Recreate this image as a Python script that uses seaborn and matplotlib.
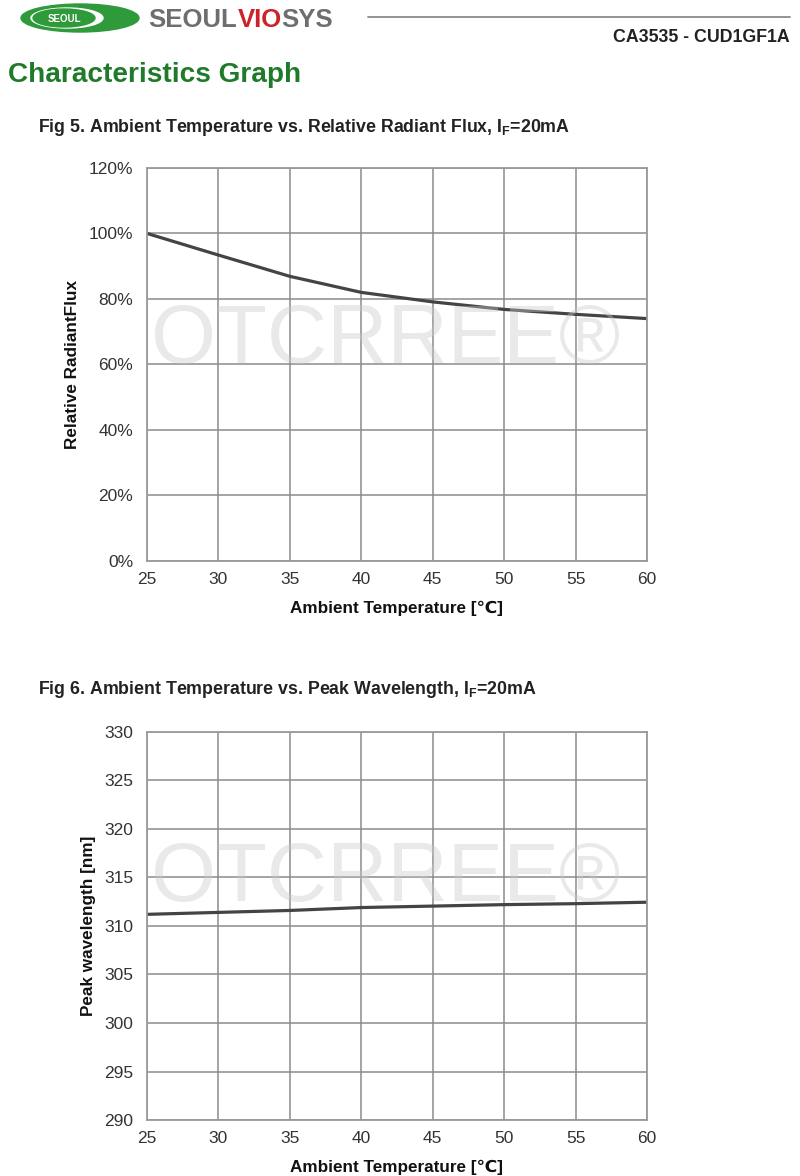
import numpy as np
import pandas as pd
import seaborn as sns
import matplotlib.pyplot as plt
from matplotlib.patches import Ellipse
from matplotlib.ticker import FuncFormatter

# values
temperature = [25, 30, 35, 40, 45, 50, 55, 60]
relative_flux = [100.0, 93.4, 86.9, 82.0, 79.1, 76.8, 75.3, 74.0]
peak_wavelength = [311.2, 311.4, 311.6, 311.9, 312.05, 312.2, 312.3, 312.45]

flux_ticks = [0, 20, 40, 60, 80, 100, 120]
wl_ticks = [290, 295, 300, 305, 310, 315, 320, 325, 330]

sns.set_style('white')
plt.rcParams['font.family'] = ['Liberation Sans', 'DejaVu Sans']
plt.rcParams['mathtext.fontset'] = 'custom'
plt.rcParams['mathtext.rm'] = 'Liberation Sans'
plt.rcParams['mathtext.bf'] = 'Liberation Sans:bold'

fig = plt.figure(figsize=(8, 11.76), dpi=100)

# header
hdr = fig.add_axes([0, 0, 1, 1], zorder=-5)
hdr.set_xlim(0, 800)
hdr.set_ylim(1176, 0)
hdr.axis('off')
hdr.add_patch(Ellipse((80, 18), 118, 28, color='#2e9a3a'))
hdr.add_patch(Ellipse((67, 18), 72, 20, color='white'))
hdr.add_patch(Ellipse((64, 18), 62, 18, color='#2e9a3a'))
hdr.text(64, 18.5, 'SEOUL', color='white', fontsize=7, ha='center', va='center', fontweight='bold')
hdr.text(148, 20, 'SEOUL', color='#6e6e6e', fontsize=18.5, ha='left', va='center', fontweight='bold')
hdr.text(238, 20, 'VIO', color='#cc2229', fontsize=18.5, ha='left', va='center', fontweight='bold')
hdr.text(281, 20, 'SYS', color='#6e6e6e', fontsize=18.5, ha='left', va='center', fontweight='bold')
hdr.plot([368, 790], [17, 17], color='#8a8a8a', lw=1.3)
hdr.text(790, 37, 'CA3535 - CUD1GF1A', fontsize=12.8, fontweight='bold', ha='right', va='center', color='#222222')
hdr.text(8, 75, 'Characteristics Graph', fontsize=20.2, fontweight='bold', ha='left', va='center', color='#1f7a2a')
hdr.text(38, 128, r'Fig 5. Ambient Temperature vs. Relative Radiant Flux, I$_\mathbf{F}$=20mA',
         fontsize=12.8, fontweight='bold', ha='left', va='center', color='#222222')
hdr.text(38, 690, r'Fig 6. Ambient Temperature vs. Peak Wavelength, I$_\mathbf{F}$=20mA',
         fontsize=12.8, fontweight='bold', ha='left', va='center', color='#222222')

df = pd.DataFrame({'Temperature': temperature, 'Flux': relative_flux, 'Wavelength': peak_wavelength})


def style_axis(ax, ylabel):
    ax.set_xlim(25, 60)
    ax.set_xticks(temperature)
    ax.grid(True, color='#8c8c8c', lw=1.1)
    for s in ax.spines.values():
        s.set_color('#9a9a9a')
        s.set_linewidth(1.3)
    ax.tick_params(labelsize=12.5, colors='#333333', length=0)
    ax.tick_params(axis='y', pad=10)
    ax.tick_params(axis='x', pad=8)
    ax.set_xlabel('Ambient Temperature [℃]', fontsize=12.3, fontweight='bold', color='#111111', labelpad=10)
    ax.set_ylabel(ylabel, fontsize=12.3, fontweight='bold', color='#111111', labelpad=6)


def watermark(ax, y):
    ax.text(0.008, y, 'OTCRREE®', transform=ax.transAxes, fontsize=60, color='#c8c8c8',
            alpha=0.4, ha='left', va='center', zorder=5, clip_on=True)


ax1 = fig.add_axes([0.18375, 0.5230, 0.625, 0.3342])
sns.lineplot(data=df, x='Temperature', y='Flux', ax=ax1, color='#444444', lw=2.3)
ax1.set_ylim(0, 120)
ax1.set_yticks(flux_ticks)
ax1.yaxis.set_major_formatter(FuncFormatter(lambda v, p: f'{v:.0f}%'))
style_axis(ax1, 'Relative RadiantFlux')
watermark(ax1, 0.56)

ax2 = fig.add_axes([0.18375, 0.0476, 0.625, 0.3300])
sns.lineplot(data=df, x='Temperature', y='Wavelength', ax=ax2, color='#444444', lw=2.3)
ax2.set_ylim(290, 330)
ax2.set_yticks(wl_ticks)
style_axis(ax2, 'Peak wavelength [nm]')
watermark(ax2, 0.62)

fig.savefig('out.png', dpi=100)
